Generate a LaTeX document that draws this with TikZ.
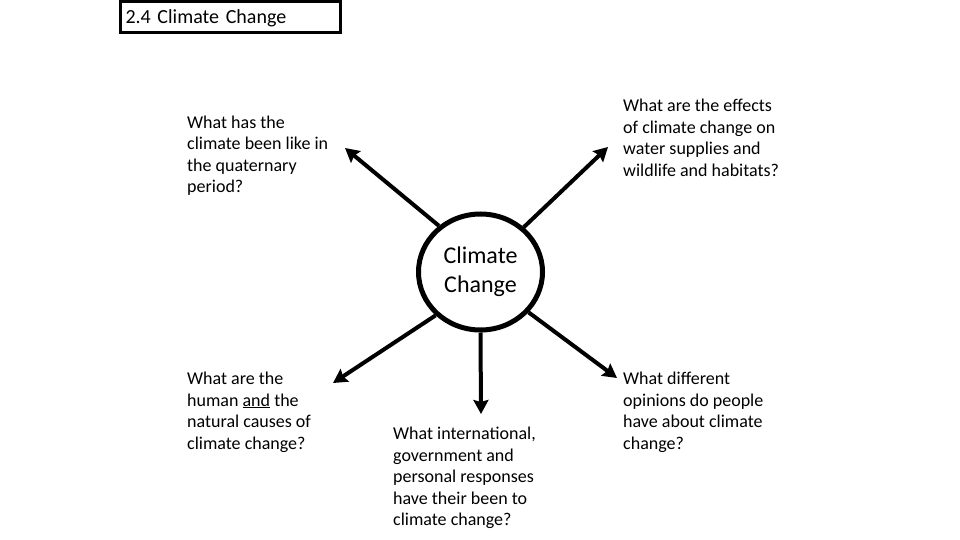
\documentclass[tikz,border=0pt]{standalone}
\usepackage{fontspec}
\setmainfont{Carlito}
\usetikzlibrary{arrows.meta,shapes.geometric}

\tikzset{
  question/.style={anchor = base west, inner sep=0pt, align=left, font=\fontsize{18}{21.5}\selectfont},
  spoke/.style={line width=4pt, -{Stealth[length=14pt,width=15pt,inset=2pt]}},
  hub/.style={ellipse, draw, line width=5pt, minimum width=124pt, minimum height=116pt, inner sep=0pt, align=center, font=\fontsize{24}{29}\selectfont},
  titlebox/.style={draw, line width=3pt, text width=210pt, inner xsep=5pt, inner ysep=0pt, minimum height=31pt, align=left, text depth=0pt, font=\fontsize{20}{24}\selectfont}
}

\begin{document}
\begin{tikzpicture}[x=1pt,y=-1pt]
\useasboundingbox (0,0) rectangle (960,540);
\node[titlebox] (title) at (230.5,17) {2.4 Climate Change};
\node[hub] (cc) at (480.5,272) {Climate\\Change};
\coordinate (ulTip) at (345,148);
\coordinate (urTip) at (608,147);
\coordinate (llTip) at (333,383);
\coordinate (dTip) at (481,414);
\coordinate (lrTip) at (617,378);
\draw[spoke] (cc.132) -- (ulTip);
\draw[spoke] (cc.46) -- (urTip);
\draw[spoke] (cc.224) -- (llTip);
\draw[spoke] (cc.south) -- (dTip);
\draw[spoke] (cc.-40) -- (lrTip);
\node[question] (qUL) at (187,193) {What has the\\climate been like in\\the quaternary\\period?};
\node[question] (qUR) at (623,176) {What are the effects\\of climate change on\\water supplies and\\wildlife and habitats?};
\node[question] (qLL) at (187,449) {What are the\\human \underline{and} the\\natural causes of\\climate change?};
\node[question] (qB) at (393,525.5) {What international,\\government and\\personal responses\\have their been to\\climate change?};
\node[question] (qLR) at (623,449) {What different\\opinions do people\\have about climate\\change?};
\end{tikzpicture}
\end{document}
